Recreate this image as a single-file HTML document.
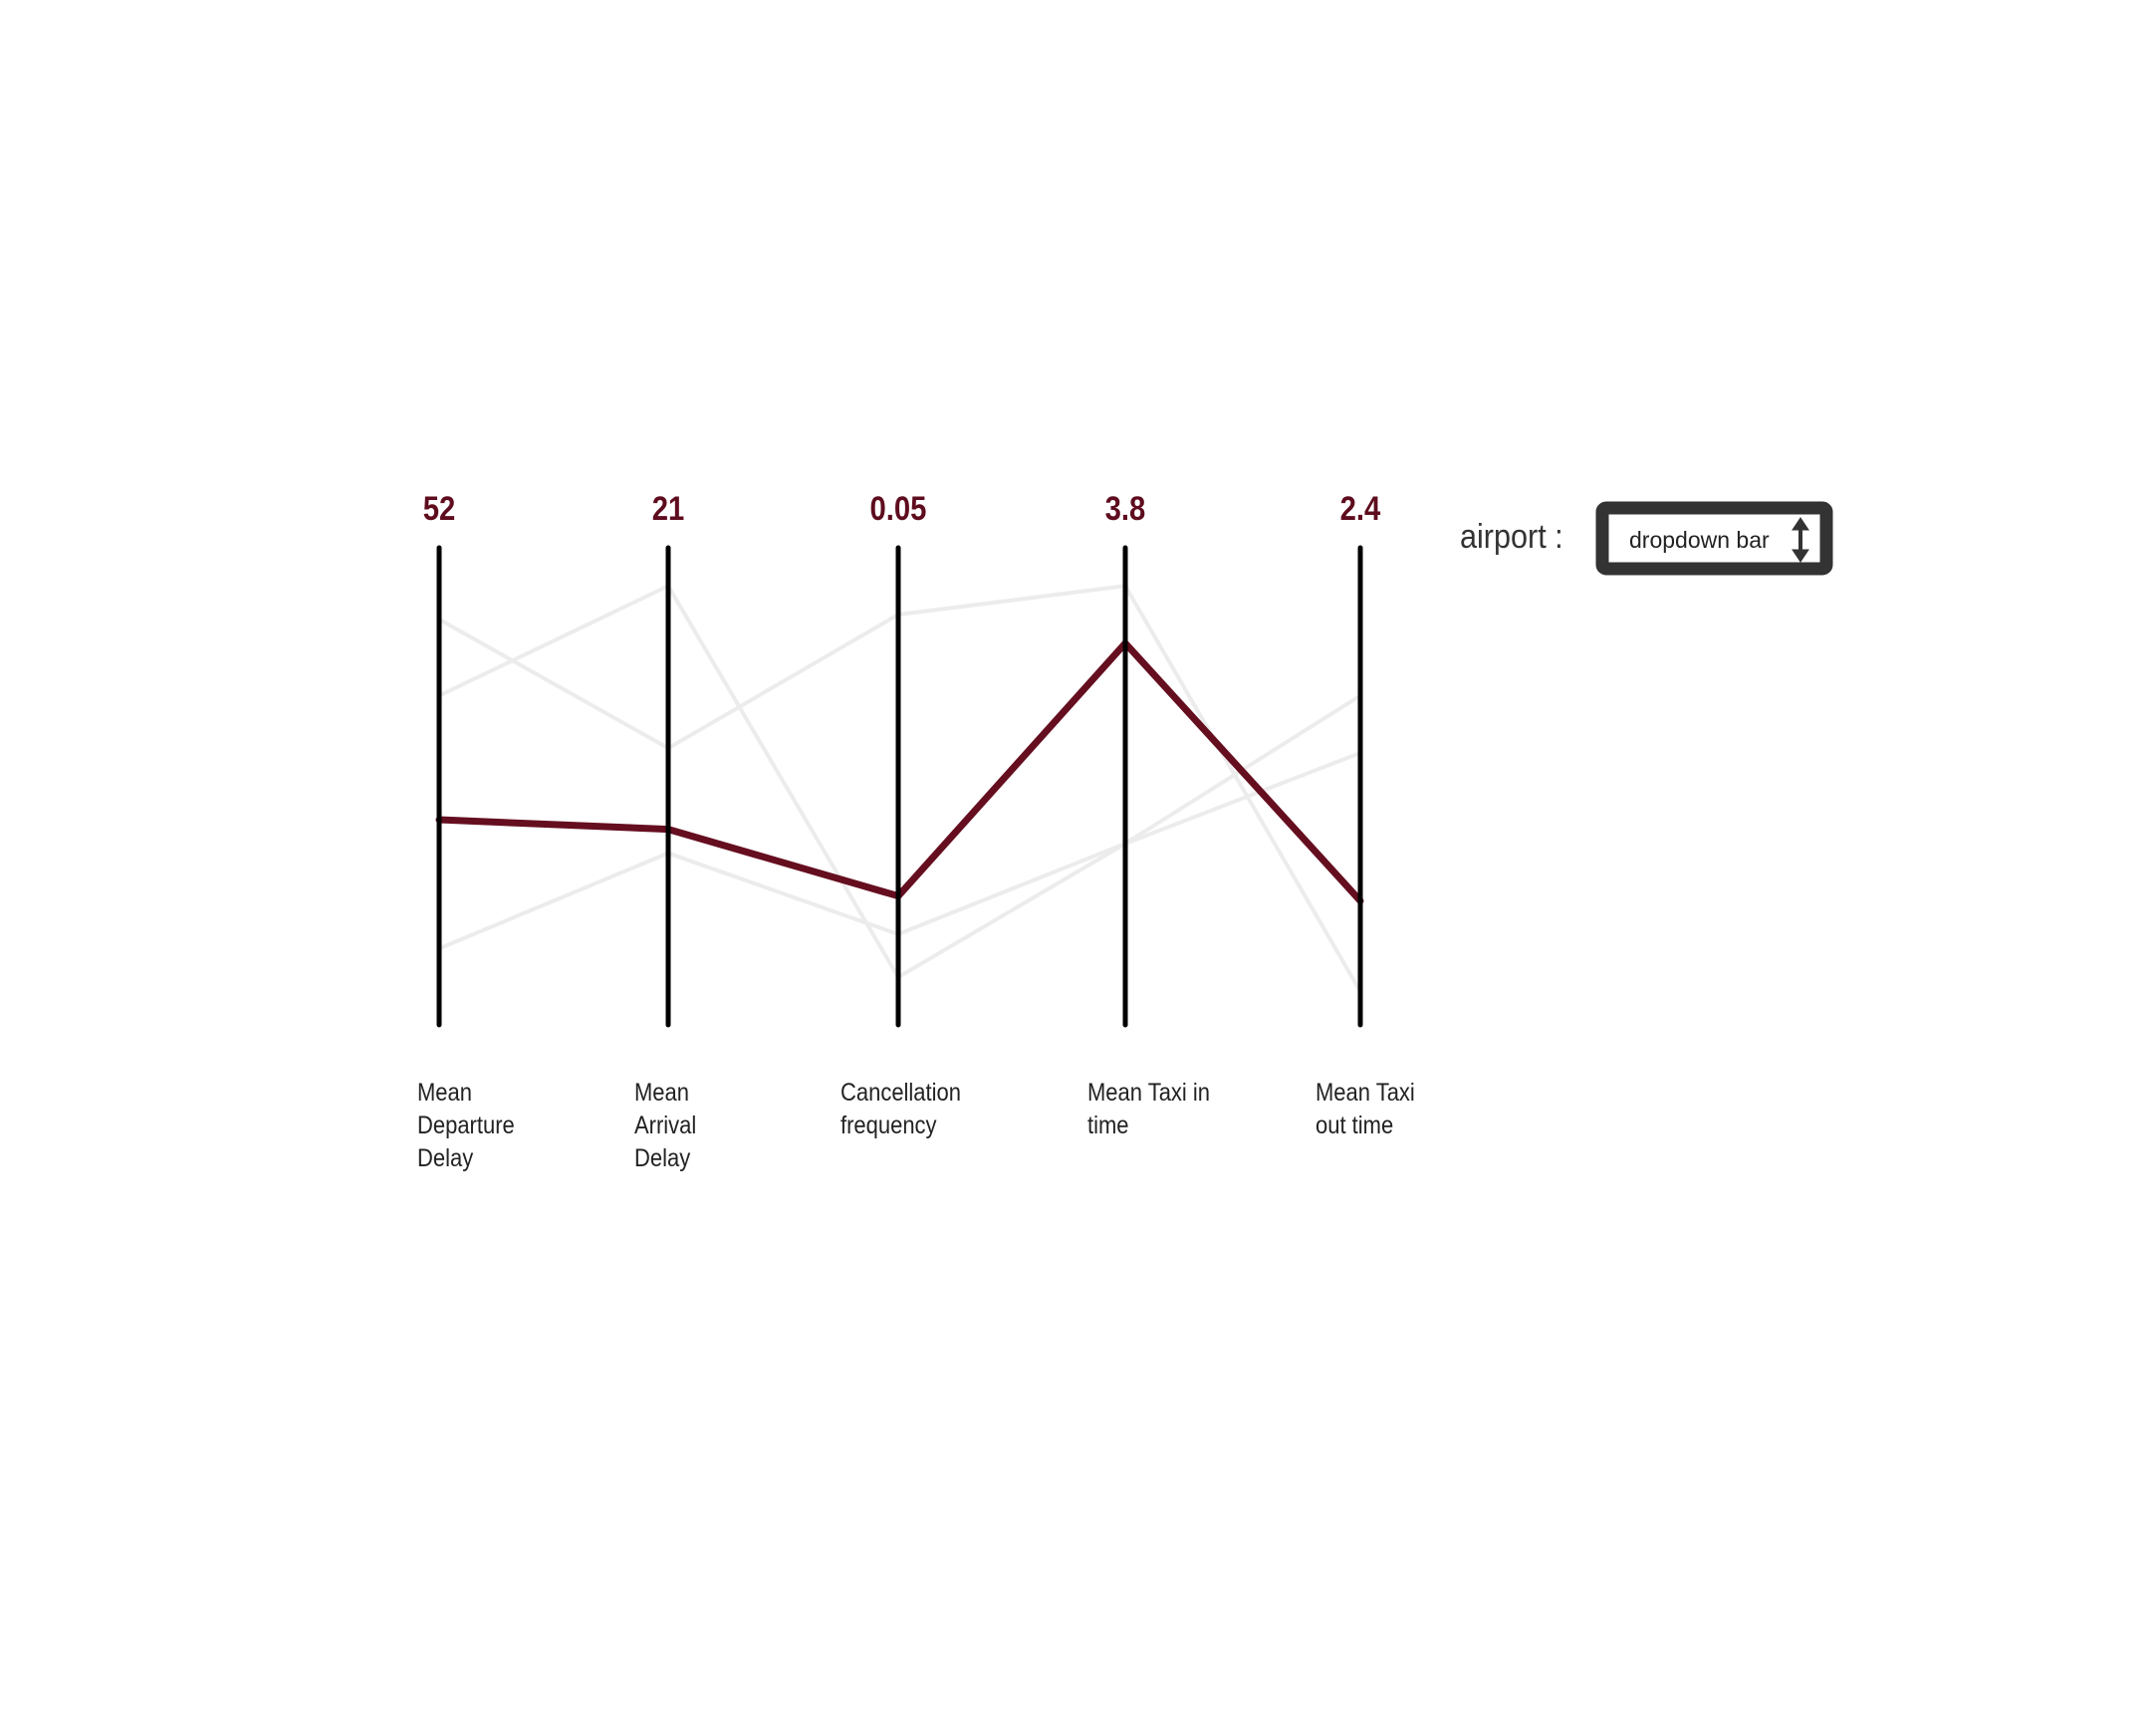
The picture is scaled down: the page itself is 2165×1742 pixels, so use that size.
<!DOCTYPE html>
<html><head><meta charset="utf-8"><style>
body{margin:0;background:#fff;width:2165px;height:1737px;overflow:hidden;font-family:"Liberation Sans",sans-serif}
</style></head><body>
<svg width="2165" height="1737">
<g id="lines"></g><g id="axes"></g><g id="labels"></g>
<text x="1466" y="550" font-size="34" fill="#333" transform="translate(1466 0) scale(0.9 1) translate(-1466 0)">airport :</text>
<g>
<rect x="1609" y="510" width="225" height="61" rx="4" fill="#fff" stroke="#333" stroke-width="13"/>
<text x="1636" y="550" font-size="23" fill="#222">dropdown bar</text>
<g fill="#333" stroke="#333">
<line x1="1808" y1="526" x2="1808" y2="558" stroke-width="4"/>
<polygon points="1800,532 1808,520 1816,532" /><polygon points="1800,552 1808,564 1816,552"/></g>
</g>
</svg>
<script>
const axisNames=[["Mean","Departure","Delay"],["Mean","Arrival","Delay"],["Cancellation","frequency"],["Mean Taxi in","time"],["Mean Taxi","out time"]];
const axisValues=["52","21","0.05","3.8","2.4"];
const highlighted=[43,41,27,80,26];
const series1=[85,58,86,92,7];
const series2=[69,92,10,38,69];
const series3=[16,36,19,38,57];
const axisX=[441,671,902,1130,1366];
const titleX=[419,637,844,1092,1321];
const yTop=550,yBot=1029;
const y=v=>yBot-(v/100)*(yBot-yTop);
const ns="http://www.w3.org/2000/svg";
const mk=(t,a,p)=>{const e=document.createElementNS(ns,t);for(const k in a)e.setAttribute(k,a[k]);p.appendChild(e);return e;};
const L=document.getElementById('lines'),A=document.getElementById('axes'),T=document.getElementById('labels');
[series1,series2,series3].forEach((s,i)=>{
 const p=mk('polyline',{points:s.map((v,j)=>axisX[j]+','+y(v)).join(' '),fill:'none',stroke:'#ececec','stroke-width':4},L);
 
 
});
axisX.forEach((x,i)=>{
 const l=mk('line',{x1:x,x2:x,y1:yTop,y2:yBot,stroke:'#000','stroke-width':5,'stroke-linecap':'round'},A);
 
 
 const v=mk('text',{x:x,y:522,'font-size':34,'font-weight':'bold',fill:'#5e0c1e','text-anchor':'middle',transform:`translate(${x} 0) scale(0.86 1) translate(${-x} 0)`},T);
 v.textContent=axisValues[i];
 
 
 const tx=titleX[i];
 const t=mk('text',{x:tx,y:1105,'font-size':25,fill:'#222',transform:`translate(${tx} 0) scale(0.88 1) translate(${-tx} 0)`},T);
 
 
 axisNames[i].forEach((n,k)=>{const s=mk('tspan',{x:tx,dy:k?33:0},t);s.textContent=n;});
});
const h=mk('polyline',{points:highlighted.map((v,j)=>axisX[j]+','+y(v)).join(' '),fill:'none',stroke:'#650e1f','stroke-width':7,'stroke-linejoin':'round','stroke-linecap':'round'},L);


</script>
</body></html>
